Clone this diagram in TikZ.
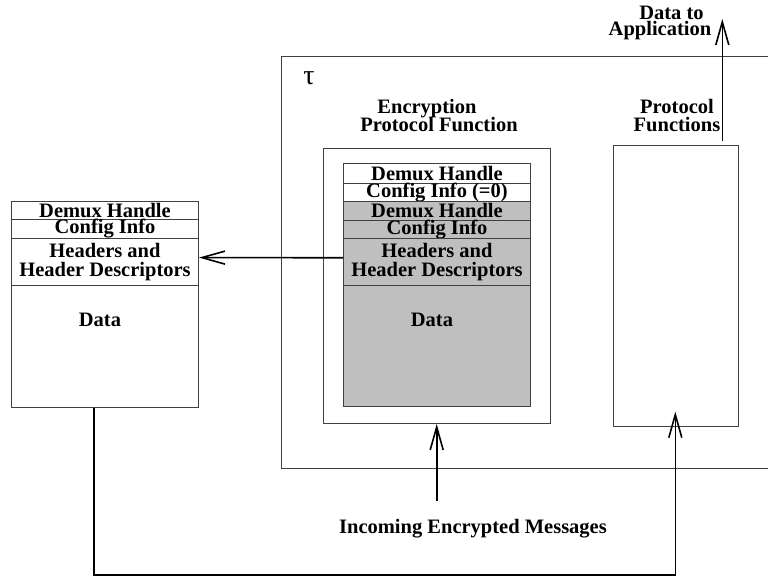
\documentclass[tikz,border=0pt]{standalone}
\usepackage{fontspec}
\setmainfont{Liberation Serif}
\usetikzlibrary{arrows.meta,calc}
\newcommand\lblfont{\fontsize{20.5}{19.3}\selectfont\bfseries}
\begin{document}
\begin{tikzpicture}[x=1pt,y=-1pt,
  frame/.style={draw=black!75,line width=1pt},
  cell/.style={frame,rectangle,inner sep=0pt,anchor=north west,align=center,font=\lblfont,minimum width=187pt},
  shade/.style={fill=black!25},
  lbl/.style={font=\lblfont,inner sep=0pt,align=center,anchor=base},
  flow/.style={draw=black,line width=1.6pt,-{Straight Barb[length=23pt,width=13pt,line width=1.6pt]}}
]
\useasboundingbox (0,0) rectangle (768,578);

% outer host frame, open to the right
\draw[frame] (768,57) -- (281,57) -- (281,468) -- (768,468);
\node[inner sep=0pt,font=\fontsize{28}{28}\selectfont] (tau) at (309,78) {τ};

% decrypted message on the left
\node[cell,minimum height=18pt]  (l1) at (11,201) {Demux Handle};
\node[cell,minimum height=19pt]  (l2) at (11,219) {Config Info};
\node[cell,minimum height=47pt]  (l3) at (11,238) {Headers and\\Header Descriptors};
\node[cell,minimum height=122pt] (l4) at (11,285) {};
\node[lbl] (ldata) at (100,326.7) {Data};

% encryption protocol function
\node[frame,rectangle,inner sep=0pt,anchor=north west,minimum width=227.3pt,minimum height=274.7pt] (enc) at (322.7,148.3) {};
\node[lbl] (encT1) at (427,113) {Encryption};
\node[lbl] (encT2) at (439,131.7) {Protocol Function};

\node[cell,minimum height=19.5pt]       (m1) at (343,163.3) {Demux Handle};
\node[cell,minimum height=18.3pt]       (m2) at (343,182.7) {Config Info (=0)};
\node[cell,shade,minimum height=19pt]   (m3) at (343,201) {Demux Handle};
\node[cell,shade,minimum height=18.3pt] (m4) at (343,220) {Config Info};
\node[cell,shade,minimum height=46.7pt] (m5) at (343,238.3) {Headers and\\Header Descriptors};
\node[cell,shade,minimum height=121pt]  (m6) at (343,285) {};
\node[lbl] (mdata) at (432,326.7) {Data};

% other protocol functions
\node[frame,rectangle,inner sep=0pt,anchor=north west,minimum width=124.5pt,minimum height=281pt] (prot) at (613,145) {};
\node[lbl] (protT1) at (677,113.3) {Protocol};
\node[lbl] (protT2) at (677,131.7) {Functions};

\node[lbl] (appT1) at (671.5,20) {Data to};
\node[lbl] (appT2) at (660,35.5) {Application};
\node[lbl] (inT) at (473,533) {Incoming Encrypted Messages};

% flows
\coordinate (appIn) at (722.3,141);
\coordinate (appOut) at (722.3,19);
\draw[flow] (appIn) -- (appOut);

\coordinate (msgSrc) at (436.7,500.7);
\draw[flow] (msgSrc) -- (msgSrc |- enc.south);

\draw[flow] ([yshift=4.4pt]m5.west) -- ([yshift=4.4pt]l3.east);

\coordinate (loopA) at (94,575);
\coordinate (loopB) at (675.3,575);
\coordinate (protIn) at (675.3,411.7);
\draw[flow] (l4.south -| loopA) -- (loopA) -- (loopB) -- (protIn);
\end{tikzpicture}
\end{document}
